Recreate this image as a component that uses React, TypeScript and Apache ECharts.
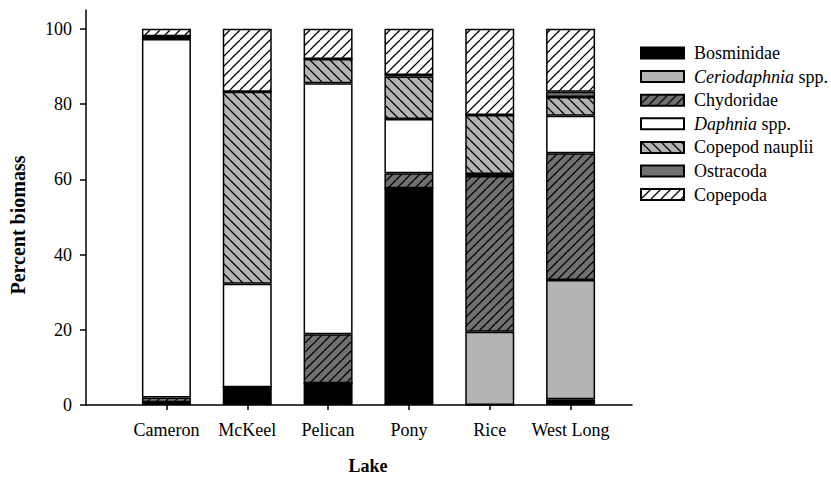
import React, { useEffect, useRef } from 'react';
import * as echarts from 'echarts';

const lakes = ['Cameron', 'McKeel', 'Pelican', 'Pony', 'Rice', 'West Long'];
const taxa = ['Bosminidae', 'Ceriodaphnia spp.', 'Chydoridae', 'Daphnia spp.', 'Copepod nauplii', 'Ostracoda', 'Copepoda'];
const bosminidae = [0.7, 4.7, 5.8, 57.6, 0, 1.5];
const ceriodaphnia = [0, 0, 0, 0, 19.5, 31.7];
const chydoridae = [1.3, 0, 13.0, 4.0, 41.4, 33.7];
const daphnia = [95.3, 27.5, 66.7, 14.4, 0.5, 10.0];
const nauplii = [0.7, 51.1, 6.5, 11.3, 15.7, 5.0];
const ostracoda = [0, 0, 0, 0.4, 0, 1.4];
const copepoda = [2.0, 16.7, 8.0, 12.3, 22.9, 16.7];
const yTicks = [0, 20, 40, 60, 80, 100];

const FONT = '"Liberation Serif", "Times New Roman", serif';
const LIGHT = '#b4b4b4';
const DARK = '#707070';

function hatch(bg: string, dir: number, s: number, lw: number) {
  const c = document.createElement('canvas');
  c.width = s;
  c.height = s;
  const g = c.getContext('2d')!;
  g.fillStyle = bg;
  g.fillRect(0, 0, s, s);
  g.strokeStyle = '#000';
  g.lineWidth = lw;
  g.beginPath();
  for (const o of [-s, 0, s]) {
    if (dir === 1) {
      g.moveTo(o, s);
      g.lineTo(o + s, 0);
    } else {
      g.moveTo(o, 0);
      g.lineTo(o + s, s);
    }
  }
  g.stroke();
  return { image: c, repeat: 'repeat' };
}

export default function App() {
  const ref = useRef<HTMLDivElement>(null);
  useEffect(() => {
    document.body.style.margin = '0';
    const chart = echarts.init(ref.current!, undefined, { renderer: 'svg' });
    const values = [bosminidae, ceriodaphnia, chydoridae, daphnia, nauplii, ostracoda, copepoda];
    const fills: any[] = [
      '#000000',
      LIGHT,
      hatch(DARK, 1, 9, 1.3),
      '#ffffff',
      hatch(LIGHT, -1, 10, 1.3),
      DARK,
      hatch('#ffffff', 1, 10, 1.3),
    ];
    const series = taxa.map((name, i) => ({
      name,
      type: 'bar',
      stack: 'total',
      xAxisIndex: 0,
      yAxisIndex: 0,
      barWidth: 49,
      data: values[i],
      itemStyle: { color: fills[i], borderColor: '#000', borderWidth: 1.5 },
      emphasis: { disabled: true },
    }));
    const top = 10;
    const height = 395;
    chart.setOption({
      animation: false,
      backgroundColor: '#fff',
      grid: [
        { left: 126, width: 485, top, height, containLabel: false, outerBoundsMode: 'none' },
        { left: 86, width: 546, top, height, containLabel: false, outerBoundsMode: 'none' },
      ],
      xAxis: [
        {
          type: 'category',
          gridIndex: 0,
          data: lakes,
          axisLine: { show: false },
          axisTick: { show: true, alignWithLabel: true, length: 5, lineStyle: { color: '#000', width: 1.5 } },
          axisLabel: { interval: 0, margin: 16, fontSize: 18, fontFamily: FONT, color: '#000' },
          splitLine: { show: false },
        },
        {
          type: 'value',
          gridIndex: 1,
          min: 0,
          max: 1,
          axisLine: { show: true, lineStyle: { color: '#000', width: 1.5 } },
          axisTick: { show: false },
          axisLabel: { show: false },
          splitLine: { show: false },
        },
      ],
      yAxis: [
        { type: 'value', gridIndex: 0, min: 0, max: 105, show: false, splitLine: { show: false } },
        {
          type: 'value',
          gridIndex: 1,
          min: 0,
          max: 105,
          axisLine: { show: true, lineStyle: { color: '#000', width: 1.5 } },
          axisTick: { show: true, length: 6, customValues: yTicks, lineStyle: { color: '#000', width: 1.5 } },
          axisLabel: { customValues: yTicks, margin: 14, fontSize: 18, fontFamily: FONT, color: '#000' },
          splitLine: { show: false },
        },
      ],
      legend: {
        orient: 'vertical',
        left: 640,
        top: 44,
        padding: 0,
        itemWidth: 43,
        itemHeight: 11,
        itemGap: 5.6,
        selectedMode: false,
        icon: 'rect',
        data: taxa,
        formatter: (name: string) => {
          if (name.endsWith(' spp.')) return '{i|' + name.replace(' spp.', '') + '} spp.';
          return name;
        },
        textStyle: {
          fontSize: 18,
          fontFamily: FONT,
          color: '#000',
          padding: [0, 0, 0, 5],
          rich: { i: { fontStyle: 'italic', fontSize: 18, fontFamily: FONT, color: '#000' } },
        },
      },
      graphic: [
        {
          type: 'text',
          x: 18,
          y: 225,
          rotation: Math.PI / 2,
          style: { text: 'Percent biomass', font: 'bold 20px "Liberation Serif"', fill: '#000', align: 'center', verticalAlign: 'middle' },
        },
        {
          type: 'text',
          x: 368,
          y: 466,
          style: { text: 'Lake', font: 'bold 18px "Liberation Serif"', fill: '#000', align: 'center', verticalAlign: 'middle' },
        },
      ],
      series,
    });
    return () => chart.dispose();
  }, []);
  return <div ref={ref} style={{ width: 831, height: 477 }} />;
}
